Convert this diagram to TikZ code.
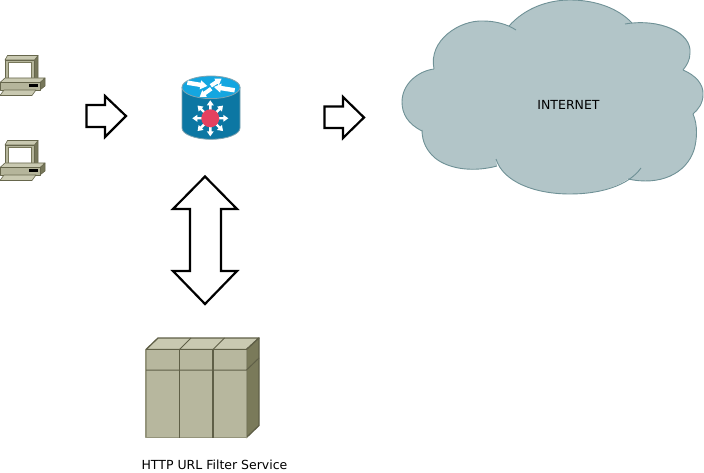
\documentclass[tikz,border=0pt]{standalone}
\usepackage{fontspec}
\usetikzlibrary{calc}
\setmainfont{DejaVu Sans}
\definecolor{cloudfill}{HTML}{B2C5C8}
\definecolor{cloudline}{HTML}{6F9196}
\definecolor{boxfront}{HTML}{B7B79E}
\definecolor{boxtop}{HTML}{C9C9B1}
\definecolor{boxside}{HTML}{7A7A5A}
\definecolor{boxline}{HTML}{5F5F47}
\definecolor{routerblue}{HTML}{0C77A3}
\definecolor{routerlight}{HTML}{14A6E0}
\definecolor{routeredge}{HTML}{7FA3B0}
\definecolor{routerred}{HTML}{E5415F}
\definecolor{pcbody}{HTML}{B5B59B}
\definecolor{pcdark}{HTML}{77775A}
\definecolor{pcline}{HTML}{66664C}
\newcommand{\flatarrow}[5]{% tail, tip, stem half width, head half width, head length
  \coordinate (ft) at (#1);
  \coordinate (fh) at (#2);
  \coordinate (fn) at ($(fh)!#5!(ft)$);
  \fill[white] ($(ft)!#3!90:(fh)$) -- ($(fn)!#3!-90:(ft)$) -- ($(fn)!#4!-90:(ft)$) -- (fh)
     -- ($(fn)!#4!90:(ft)$) -- ($(fn)!#3!90:(ft)$) -- ($(ft)!#3!-90:(fh)$) -- cycle;
}
\tikzset{
  blockarrow/.style={draw=black,fill=white,line width=2.2pt,miter limit=10},
  lobe/.style={draw=cloudline,line width=0.9pt},
  boxedge/.style={draw=boxline,line width=1.3pt,line join=round},
  label/.style={inner sep=0pt,text=black,font=\fontsize{12.5}{14}\selectfont},
  pcpart/.style={draw=pcline,line width=0.6pt,line join=round},
  pics/pcicon/.style={code={
    \draw[pcpart,fill=pcdark] (34.500,60)--(38,55.500)--(38,78)--(34.500,82)--cycle;
    \draw[pcpart,fill=boxtop] (5,60)--(7.500,55.500)--(38,55.500)--(34.500,60)--cycle;
    \draw[pcpart,fill=pcbody] (5,60) rectangle (34.500,82);
    \draw[draw=pcdark,line width=0.8pt,fill=white] (8.500,62) rectangle (31.500,79);
    \draw[pcpart,fill=pcdark] (40,82.500)--(45,78)--(45,86)--(40,90)--cycle;
    \draw[pcpart,fill=boxtop] (0,82.500)--(5,78)--(45,78)--(40,82.500)--cycle;
    \draw[pcpart,fill=pcbody] (0,82.500) rectangle (40,90);
    \fill[black] (28.500,84.500) rectangle (38,86.800);
    \draw[pcpart,fill=boxtop] (0,95.500)--(4,90)--(36,90)--(32,95.500)--cycle;
  }}
}
\begin{document}
\begin{tikzpicture}[x=1pt,y=-1pt]
\useasboundingbox (0,0) rectangle (704,473);
% cloud fill
\fill[cloudfill] (509,26) .. controls (525,8) and (548,0) .. (570,0)
  .. controls (595,0) and (618,8) .. (632,23)
  .. controls (665,20) and (692,33) .. (690,53)
  .. controls (690,60) and (687,65) .. (683,70)
  .. controls (695,75) and (704,84) .. (703,95)
  .. controls (703,103) and (698,110) .. (693,114)
  .. controls (698,125) and (697,140) .. (694,150)
  .. controls (686,174) and (660,186) .. (628,179)
  .. controls (612,190) and (590,194) .. (570,194)
  .. controls (535,194) and (503,182) .. (496,159)
  -- (497,166)
  .. controls (475,172) and (450,170) .. (435,158)
  .. controls (427,151) and (422,142) .. (422,131)
  .. controls (408,124) and (402,114) .. (402,102)
  .. controls (402,84) and (418,71) .. (434,69)
  .. controls (428,40) and (460,20) .. (483,21)
  .. controls (493,21) and (502,23) .. (509,26) -- cycle;
% cloud outline, one lobe at a time
\draw[lobe] (509,26) .. controls (525,8) and (548,0) .. (570,0)
  .. controls (595,0) and (618,8) .. (632,23);
\draw[lobe] (625,24) .. controls (660,18) and (692,33) .. (690,53)
  .. controls (690,60) and (687,65) .. (683,70);
\draw[lobe] (683,70) .. controls (695,75) and (704,84) .. (703,95)
  .. controls (703,103) and (698,110) .. (693,114);
\draw[lobe] (693,114) .. controls (698,125) and (697,140) .. (694,150)
  .. controls (686,174) and (660,186) .. (628,179);
\draw[lobe] (641,168) .. controls (628,186) and (600,194) .. (570,194)
  .. controls (535,194) and (503,182) .. (496,159);
\draw[lobe] (497,166) .. controls (475,172) and (450,170) .. (435,158)
  .. controls (427,151) and (422,142) .. (422,130);
\draw[lobe] (422,131) .. controls (408,124) and (402,114) .. (402,102)
  .. controls (402,84) and (418,71) .. (434,69);
\draw[lobe] (434,69) .. controls (428,40) and (460,20) .. (483,21)
  .. controls (495,21) and (507,24) .. (516,30);
\node[label] (internet) at (568.500,104.500) {INTERNET};
% PCs
\pic (pcone) at (0,0) {pcicon};
\pic (pctwo) at (0,85) {pcicon};
% block arrows
\draw[blockarrow] (86.500,105)--(105,105)--(105,96)--(126,116)--(105,137)--(105,127)--(86.500,127)--cycle;
\draw[blockarrow] (324.500,106.500)--(343,106.500)--(343,97)--(364,117.500)--(343,138)--(343,128)--(324.500,128)--cycle;
\draw[blockarrow] (205,176.500)--(237,209)--(221,209)--(221,271)--(237,271)--(205,304)--(173,271)--(190,271)--(190,209)--(173,209)--cycle;
% router
\draw[draw=routeredge,line width=0.8pt,fill=routerblue] (182,87.500) -- (182,128) arc[start angle=180,end angle=0,x radius=29,y radius=11.300] -- (240,87.500) -- cycle;
\draw[draw=routeredge,line width=0.8pt,fill=routerlight] (211,87.300) ellipse[x radius=29,y radius=11.300];
\flatarrow{187.3,82.7}{207.3,86}{2.2pt}{4.6pt}{7pt}
\flatarrow{234.7,90.3}{214,87}{2.2pt}{4.6pt}{7pt}
\flatarrow{210.8,85.8}{221.5,78.7}{2pt}{4pt}{6pt}
\flatarrow{211.2,88.7}{199.7,97}{2pt}{4pt}{6pt}
\coordinate (hub) at (210.300,118.300);
\foreach \a in {0,45,...,315} {
  \flatarrow{$(hub)+(\a:8pt)$}{$(hub)+(\a:18pt)$}{1.2pt}{3.5pt}{5pt}
}
\fill[routerred] (hub) circle[radius=9];
% filter service box
\draw[boxedge,fill=boxtop] (146,349.500)--(158,338)--(259,338)--(246.500,349.500)--cycle;
\draw[boxedge,fill=boxside] (246.500,349.500)--(259,338)--(259,425.500)--(246.500,437.500)--cycle;
\draw[boxedge,fill=boxfront,draw=boxfront!60!boxline] (146,349.500) rectangle (246.500,437.500);
\draw[boxedge] (146,349.500)--(246.500,349.500);
\draw[boxedge,line width=1pt] (146,370)--(246.500,370)--(259,358);
\draw[boxedge] (179.500,349.500)--(179.500,437.500);
\draw[boxedge] (213,349.500)--(213,437.500);
\draw[boxedge,line width=1pt] (179.500,349.500)--(191,338);
\draw[boxedge,line width=1pt] (213,349.500)--(224.500,338);
\node[label] (filterlabel) at (214.500,465) {HTTP URL Filter Service};
\end{tikzpicture}
\end{document}
